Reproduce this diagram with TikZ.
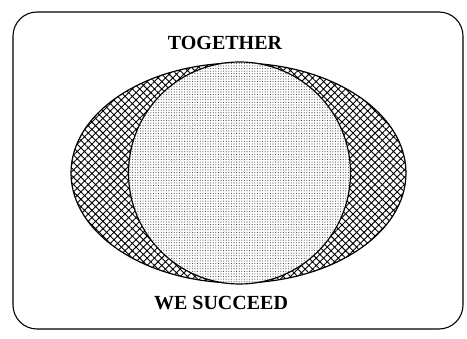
\documentclass[tikz,border=0pt]{standalone}
\usepackage{fontspec}
\setmainfont{Liberation Serif}
\usetikzlibrary{shapes.geometric,patterns.meta}

\begin{document}
\begin{tikzpicture}[
  x=1pt,y=-1pt,
  frame/.style={draw,line width=1.1pt,rounded corners=24pt,minimum width=450pt,minimum height=317pt,inner sep=0pt},
  outer/.style={draw,ellipse,line width=1.2pt,minimum width=335pt,minimum height=220pt,inner sep=0pt,
    pattern={Hatch[angle=45,distance=5.2pt,line width=0.9pt]}},
  inner/.style={draw,circle,line width=1.2pt,minimum size=222pt,inner sep=0pt,fill=white,
    postaction={pattern={Dots[distance=2.6pt,radius=0.55pt]},pattern color=black!75}},
  word/.style={font=\fontsize{20}{22}\selectfont\bfseries,inner sep=0pt}
]
\useasboundingbox (0,0) rectangle (467,339);
\node[frame] (box) at (238,170.5) {};
\node[outer] (egg) at (238.5,173) {};
\node[inner] (ball) at (239.5,173) {};
\node[word] (top) at (225,43) {TOGETHER};
\node[word] (bottom) at (221,303) {WE SUCCEED};
\end{tikzpicture}
\end{document}
